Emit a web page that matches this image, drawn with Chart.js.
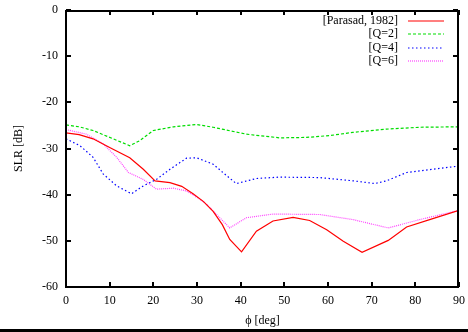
<!DOCTYPE html>
<html lang="en">
<head>
    <meta charset="UTF-8">
    <title>SLR vs phi</title>
    <script src="https://cdn.jsdelivr.net/npm/chart.js"></script>
    <style>
        html, body { margin: 0; padding: 0; background: #fff; overflow: hidden; }
        #wrap { width: 468px; height: 329px; }
        #bar { width: 468px; height: 3px; background: #000; }
    </style>
</head>
<body>
    <div id="wrap"><canvas id="slrChart" width="468" height="329"></canvas></div>
    <div id="bar"></div>

    <script>
        // data
        const xTicks = [0, 10, 20, 30, 40, 50, 60, 70, 80, 90];
        const yTicks = [0, -10, -20, -30, -40, -50, -60];

        const parasadX = [0, 3, 6.2, 10, 14.6, 17.7, 20.4, 23.8, 26.5, 29.1, 31.5, 33.7, 35.8, 37.5, 40.2, 43.6, 47.4, 52, 55.8, 59.7, 63.5, 67.8, 73.8, 78, 84, 90];
        const parasadY = [-26.6, -27, -27.9, -29.8, -32, -34.5, -37, -37.4, -38.2, -39.8, -41.5, -43.6, -46.5, -49.7, -52.4, -47.9, -45.7, -44.9, -45.6, -47.6, -50.1, -52.5, -49.9, -47, -45.2, -43.4];

        const q2X = [0, 3, 6.2, 10.8, 14.6, 16.9, 20, 24.6, 29.9, 33.7, 41.3, 49, 55.1, 60.4, 65.7, 73.4, 81, 90];
        const q2Y = [-24.9, -25.3, -26.1, -27.9, -29.4, -28.3, -26.1, -25.3, -24.8, -25.4, -26.9, -27.7, -27.6, -27.2, -26.5, -25.8, -25.4, -25.3];

        const q4X = [0, 3.2, 6.2, 8.5, 11.6, 15, 17.7, 20.7, 23.8, 27.6, 29.9, 33.7, 36.8, 39, 43.6, 48.9, 58.1, 65.7, 70.7, 73.4, 78, 90];
        const q4Y = [-27.9, -29.4, -31.9, -35.5, -38.1, -39.8, -38.1, -36.7, -34.5, -32.1, -32, -33.4, -35.9, -37.6, -36.5, -36.2, -36.3, -37, -37.6, -37, -35.2, -33.8];

        const q6X = [0, 4.7, 8.5, 11.6, 14.3, 17.7, 20.7, 24.6, 27.6, 30.7, 32.2, 37.5, 41.3, 47.4, 58.1, 65.7, 73.8, 81, 90];
        const q6Y = [-25.9, -26.9, -29, -31.9, -35.2, -36.7, -38.8, -38.6, -39.2, -41, -42.1, -47.2, -45, -44.2, -44.3, -45.4, -47.2, -45.4, -43.4];

        const FONT = "'Liberation Serif', 'DejaVu Serif', serif";
        const labelFont = { family: FONT, size: 12 };

        function series(label, xs, ys, color, dash) {
            return {
                label: label,
                data: xs.map((x, i) => ({ x: x, y: ys[i] })),
                borderColor: color,
                borderWidth: 1.2,
                borderDash: dash,
                pointRadius: 0,
                tension: 0,
                fill: false
            };
        }

        // frame + inward ticks, key at top right
        const framePlugin = {
            id: 'frame',
            afterDraw(chart) {
                const ctx = chart.ctx;
                const a = chart.chartArea;
                const xs = chart.scales.x, ys = chart.scales.y;
                const L = Math.round(a.left), R = Math.round(a.right);
                const T = Math.round(a.top), B = Math.round(a.bottom);
                ctx.save();
                ctx.fillStyle = '#000000';
                ctx.fillRect(L - 1, T, R - L + 1, 2);
                ctx.fillRect(L - 1, B - 1, R - L + 1, 2);
                ctx.fillRect(L - 1, T, 2, B - T);
                ctx.fillRect(R - 2, T, 2, B - T);
                for (const v of xTicks) {
                    const px = Math.round(xs.getPixelForValue(v));
                    ctx.fillRect(px - 1, B - 5, 2, 5);
                    ctx.fillRect(px - 1, T, 2, 5);
                }
                for (const v of yTicks) {
                    const py = Math.round(ys.getPixelForValue(v));
                    ctx.fillRect(L, py - 1, 5, 2);
                    ctx.fillRect(R - 6, py - 1, 5, 2);
                }

                ctx.font = '12px ' + FONT;
                ctx.textAlign = 'right';
                ctx.textBaseline = 'middle';
                ctx.lineWidth = 1.2;
                chart.data.datasets.forEach((ds, i) => {
                    const y = Math.round(21 + i * 13.3);
                    ctx.fillStyle = '#000000';
                    ctx.fillText(ds.label, 398, y);
                    ctx.strokeStyle = ds.borderColor;
                    ctx.setLineDash(ds.borderDash);
                    ctx.beginPath();
                    ctx.moveTo(408, y);
                    ctx.lineTo(444, y);
                    ctx.stroke();
                });
                ctx.restore();
            }
        };

        const slrChart = new Chart(document.getElementById('slrChart').getContext('2d'), {
            type: 'line',
            data: {
                datasets: [
                    series('[Parasad, 1982]', parasadX, parasadY, '#ff0000', []),
                    series('[Q=2]', q2X, q2Y, '#00dd00', [3, 2]),
                    series('[Q=4]', q4X, q4Y, '#0000ff', [1.5, 2.5]),
                    series('[Q=6]', q6X, q6Y, '#ff44ff', [1, 1])
                ]
            },
            options: {
                responsive: false,
                animation: false,
                layout: { padding: { top: 10, right: 9, left: 0, bottom: 0 } },
                plugins: {
                    legend: { display: false },
                    tooltip: { enabled: false }
                },
                scales: {
                    x: {
                        type: 'linear',
                        min: 0,
                        max: 90,
                        afterBuildTicks: s => { s.ticks = xTicks.map(v => ({ value: v })); },
                        afterFit: s => { s.height = 42; s.paddingLeft = 0; s.paddingRight = 0; },
                        grid: { display: false, drawTicks: false },
                        border: { display: false },
                        ticks: { color: '#000', padding: 7, maxRotation: 0, font: labelFont },
                        title: { display: true, text: 'ϕ [deg]', color: '#000', padding: { top: 0, bottom: 1 }, font: labelFont }
                    },
                    y: {
                        type: 'linear',
                        min: -60,
                        max: 0,
                        afterBuildTicks: s => { s.ticks = yTicks.map(v => ({ value: v })); },
                        afterFit: s => { s.width = 66; s.paddingTop = 0; s.paddingBottom = 0; },
                        grid: { display: false, drawTicks: false },
                        border: { display: false },
                        ticks: { color: '#000', padding: 8, font: labelFont },
                        title: { display: true, text: 'SLR [dB]', color: '#000', padding: { top: 12, bottom: 0 }, font: labelFont }
                    }
                }
            },
            plugins: [framePlugin]
        });
    </script>
</body>
</html>
